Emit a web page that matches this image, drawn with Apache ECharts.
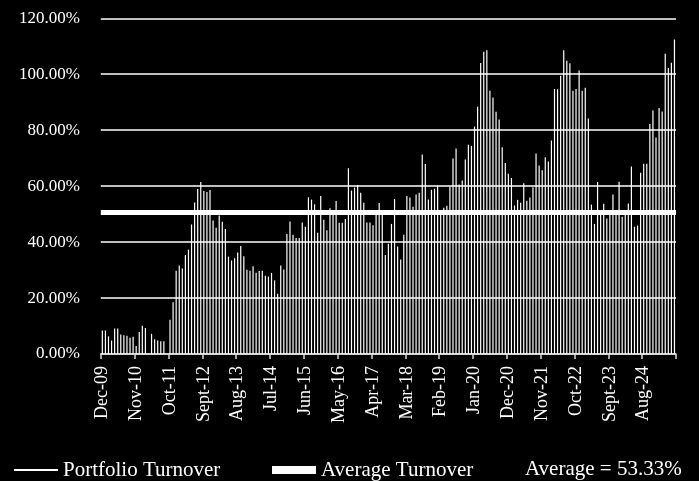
<!DOCTYPE html>
<html><head><meta charset="utf-8">
<script src="https://cdn.jsdelivr.net/npm/echarts@6/dist/echarts.min.js"></script>
<style>html,body{margin:0;padding:0;background:#000;}#c{width:699px;height:481px;}</style>
</head><body><div id="c"></div>
<script>
const monthNames = ['Jan','Feb','Mar','Apr','May','Jun','Jul','Aug','Sept','Oct','Nov','Dec'];
const startYear = 2009;
const startMonthIndex = 11; // Dec-09
const turnover = [
 8.4, 8.4, 6.3, 4.8, 9.1, 9.1, 7.0, 6.7, 6.5, 5.8,
 6.2, 2.9, 7.9, 10.1, 9.3, 0, 7.2, 5.3, 4.8, 4.6,
 4.6, 0, 12.2, 18.5, 29.8, 31.6, 30.6, 35.4, 37.3, 46.3,
 54.2, 59.0, 61.5, 58.3, 57.9, 58.6, 47.7, 45.1, 49.5, 47.3,
 44.7, 34.8, 33.4, 34.2, 36.3, 38.6, 34.9, 30.1, 29.8, 31.4,
 29.0, 29.7, 29.8, 28.0, 27.7, 29.0, 26.3, 21.5, 31.6, 30.2,
 42.9, 47.4, 42.6, 41.5, 41.5, 47.0, 45.5, 56.0, 55.2, 53.5,
 43.3, 56.5, 48.0, 44.2, 52.1, 50.8, 54.7, 46.9, 46.9, 48.3,
 66.4, 58.4, 59.5, 60.4, 57.6, 54.1, 47.0, 47.0, 46.0, 50.8,
 54.0, 50.8, 35.4, 39.4, 46.5, 55.4, 38.4, 33.8, 42.6, 56.5,
 55.9, 52.6, 57.0, 57.6, 71.3, 67.9, 55.2, 58.7, 59.1, 60.1,
 51.0, 52.3, 53.0, 59.8, 69.9, 73.5, 60.6, 62.0, 69.5, 74.8,
 74.4, 81.3, 88.4, 104.0, 108.0, 108.6, 94.1, 91.7, 86.6, 83.8,
 73.9, 68.3, 64.4, 62.9, 53.1, 55.1, 54.1, 61.0, 54.8, 55.9,
 59.6, 71.7, 67.4, 65.7, 70.3, 68.8, 76.3, 94.7, 94.6, 99.5,
 108.6, 104.8, 103.9, 94.1, 94.7, 101.3, 94.1, 95.2, 84.2, 53.4,
 46.5, 61.5, 50.8, 53.7, 48.4, 50.8, 57.0, 50.8, 61.6, 49.1,
 50.8, 53.8, 67.0, 45.5, 45.9, 64.8, 68.0, 68.0, 82.2, 87.0,
 77.4, 87.9, 86.7, 107.3, 102.2, 104.1, 112.4
];
const averageLineLevel = [50.8];
const averageText = ['Average = 53.33%'];
const yMin = 0, yMax = 120, yStep = 20;

const categories = [];
for (let i = 0; i < turnover.length; i++) {
  const k = startMonthIndex + i;
  const yr = startYear + Math.floor(k / 12);
  categories.push(monthNames[k % 12] + '-' + String(yr % 100).padStart(2, '0'));
}

const FONT = 'Liberation Serif';
const chart = echarts.init(document.getElementById('c'), null, {renderer: 'canvas'});
chart.setOption({
  backgroundColor: '#000',
  animation: false,
  grid: {left: 100.8, right: 23, top: 18.3, bottom: 127, containLabel: false},
  legend: [
    {data: ['Portfolio Turnover'], left: 14, top: 459.5, padding: 0, icon: 'rect',
     itemWidth: 44, itemHeight: 2, textStyle: {color: '#fff', fontFamily: FONT, fontSize: 21}},
    {data: ['Average Turnover'], left: 272, top: 459.5, padding: 0, icon: 'rect',
     itemWidth: 44, itemHeight: 8, textStyle: {color: '#fff', fontFamily: FONT, fontSize: 21}}
  ],
  graphic: [{
    type: 'text', left: 525, top: 459,
    style: {text: averageText[0], fill: '#fff', font: '21px "Liberation Serif"'}
  }],
  xAxis: {
    type: 'category', data: categories, boundaryGap: true,
    axisLine: {lineStyle: {color: '#d9d9d9', width: 1.5}},
    axisTick: {show: true, interval: 10, length: 5, lineStyle: {color: '#d9d9d9', width: 1.5}},
    axisLabel: {interval: 10, rotate: 90, color: '#fff', fontFamily: FONT, fontSize: 18, margin: 12}
  },
  yAxis: {
    type: 'value', min: yMin, max: yMax, interval: yStep,
    axisLine: {show: false}, axisTick: {show: false},
    axisLabel: {color: '#fff', fontFamily: FONT, fontSize: 17, margin: 21,
      formatter: v => v.toFixed(2) + '%'},
    splitLine: {lineStyle: {color: '#bfbfbf', width: 2}}
  },
  series: [
    {name: 'Portfolio Turnover', type: 'bar', data: turnover, barWidth: 1.2,
     itemStyle: {color: '#ffffff'}},
    {name: 'Average Turnover', type: 'line', data: [], symbol: 'none',
     itemStyle: {color: '#ffffff'}, lineStyle: {color: '#ffffff', width: 5},
     markLine: {symbol: 'none', silent: true, label: {show: false},
       lineStyle: {color: '#ffffff', width: 5, type: 'solid'},
       data: [{yAxis: averageLineLevel[0]}]}}
  ]
});
</script></body></html>
